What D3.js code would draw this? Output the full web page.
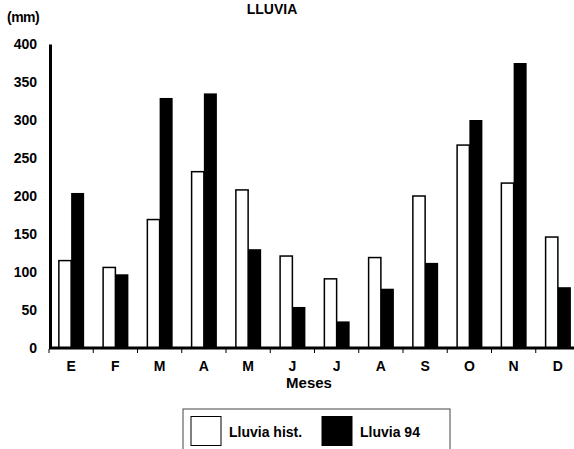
<!DOCTYPE html>
<html>
<head>
<meta charset="utf-8">
<script src="https://cdn.jsdelivr.net/npm/d3@7"></script>
<style>
  html, body { margin: 0; padding: 0; background: #fff; }
  svg { display: block; font-family: "Liberation Sans", Arial, sans-serif; }
</style>
</head>
<body>
<svg id="chart" width="574" height="449"></svg>
<script>
const months = ["E", "F", "M", "A", "M", "J", "J", "A", "S", "O", "N", "D"];
const lluviaHist = [115, 106, 169, 232, 208, 121, 91, 119, 200, 267, 217, 146];
const lluvia94 = [204, 97, 329, 335, 130, 54, 35, 78, 112, 300, 375, 80];
const yTicks = [0, 50, 100, 150, 200, 250, 300, 350, 400];
const seriesNames = ["Lluvia hist.", "Lluvia 94"];
const seriesKeys = ["hist", "y94"];

const data = months.map((m, i) => ({ idx: i, month: m, hist: lluviaHist[i], y94: lluvia94[i] }));

const svg = d3.select("#chart");
const x0 = 49, x1 = 580, yBase = 348, yTop = 44;

const x = d3.scaleBand().domain(d3.range(months.length)).range([x0, x1]).padding(0);
const xSub = d3.scaleBand().domain(seriesKeys).range([0, x.bandwidth()]).paddingInner(0).paddingOuter(0.7);
const y = d3.scaleLinear().domain([0, 400]).range([yBase, yTop]);
const color = d3.scaleOrdinal().domain(seriesKeys).range(["#ffffff", "#000000"]);

// Title
svg.append("text").attr("x", 272).attr("y", 14).attr("text-anchor", "middle")
  .attr("font-size", 14).attr("font-weight", "bold").text("LLUVIA");

// Unit label
svg.append("text").attr("x", 7).attr("y", 22)
  .attr("font-size", 14).attr("font-weight", "bold").attr("letter-spacing", -0.5).text("(mm)");

// Bars
const groups = svg.append("g").selectAll("g").data(data).join("g")
  .attr("transform", d => `translate(${x(d.idx)},0)`);
groups.selectAll("rect").data(d => seriesKeys.map(k => ({ key: k, value: d[k] }))).join("rect")
  .attr("x", d => xSub(d.key) + (d.key === "hist" ? 0.75 : 0))
  .attr("y", d => y(d.value))
  .attr("width", d => xSub.bandwidth() - (d.key === "hist" ? 0.75 : 0))
  .attr("height", d => yBase - y(d.value))
  .attr("fill", d => color(d.key))
  .attr("stroke", d => d.key === "hist" ? "#000" : "none")
  .attr("stroke-width", 1.5);

// Y axis
const yAxis = svg.append("g").attr("transform", `translate(${x0 + 1},0)`)
  .call(d3.axisLeft(y).tickValues(yTicks).tickSize(0).tickPadding(13).tickSizeOuter(0));
yAxis.select(".domain").attr("stroke", "#000").attr("stroke-width", 3);
yAxis.selectAll("text").attr("font-size", 14).attr("font-weight", "bold")
  .attr("font-family", "Liberation Sans, Arial, sans-serif").attr("fill", "#000");

// X axis
const xAxis = svg.append("g").attr("transform", `translate(0,${yBase})`)
  .call(d3.axisBottom(x).tickFormat(i => months[i]).tickSize(0).tickPadding(13).tickSizeOuter(0));
xAxis.select(".domain").attr("stroke", "#000").attr("stroke-width", 3)
  .attr("d", `M${x0},0H574`);
xAxis.selectAll("text").attr("font-size", 14).attr("font-weight", "bold")
  .attr("font-family", "Liberation Sans, Arial, sans-serif").attr("fill", "#000");
// small boundary ticks between categories
xAxis.append("g").selectAll("line").data(d3.range(months.length)).join("line")
  .attr("x1", i => x(i)).attr("x2", i => x(i))
  .attr("y1", 1).attr("y2", 5).attr("stroke", "#000").attr("stroke-width", 1);

// X title
svg.append("text").attr("x", 309).attr("y", 388).attr("text-anchor", "middle")
  .attr("font-size", 15).attr("font-weight", "bold").text("Meses");

// Legend
const lg = svg.append("g");
lg.append("rect").attr("x", 183).attr("y", 409).attr("width", 267).attr("height", 60)
  .attr("fill", "#fff").attr("stroke", "#444").attr("stroke-width", 1);
const legendX = [191, 322];
seriesKeys.forEach((k, i) => {
  lg.append("rect").attr("x", legendX[i]).attr("y", 416.5).attr("width", 30).attr("height", 29)
    .attr("fill", color(k)).attr("stroke", "#000").attr("stroke-width", 1);
  lg.append("text").attr("x", legendX[i] + 38).attr("y", 437)
    .attr("font-size", 14).attr("font-weight", "bold")
    .text(seriesNames[i]);
});
</script>
</body>
</html>
